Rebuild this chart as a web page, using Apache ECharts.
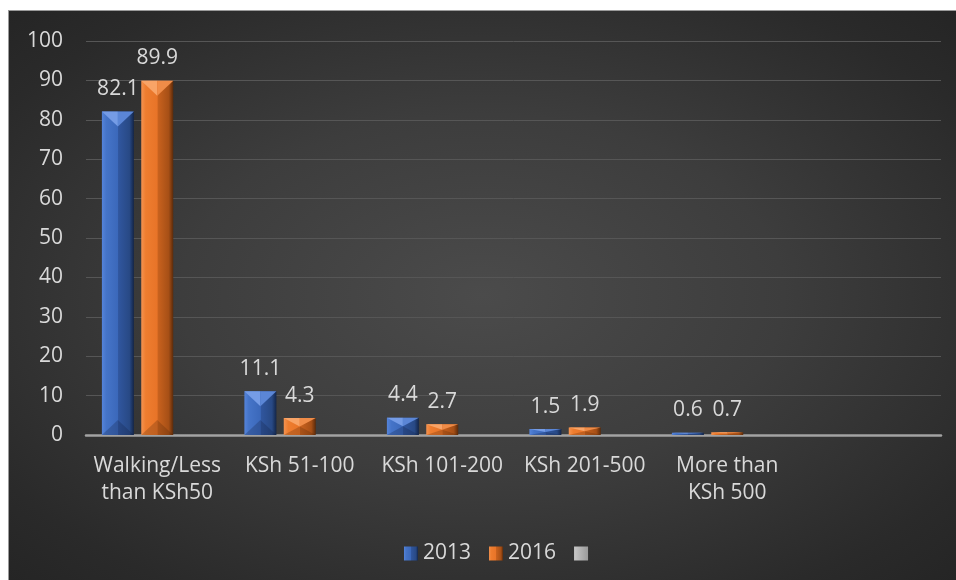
<!DOCTYPE html>
<html>
<head>
<meta charset="utf-8">
<script src="https://cdn.jsdelivr.net/npm/echarts@6/dist/echarts.min.js"></script>
<style>
  html, body { margin: 0; padding: 0; background: #ffffff; }
  #bg {
    position: absolute; left: 8px; top: 10px; right: 0; bottom: 0;
    background: radial-gradient(ellipse at 50% 50%, #4b4b4b 0%, #3d3d3d 45%, #2a2a2a 85%, #252525 100%);
    border-left: 1px solid #9a9a9a; border-top: 1px solid #9a9a9a;
  }
  #chart { position: absolute; left: 0; top: 0; width: 956px; height: 580px; }
</style>
</head>
<body>
<div id="bg"></div>
<div id="chart"></div>
<script>
// Cost categories (the last slot is left blank)
const categories = ['Walking/Less\nthan KSh50', 'KSh 51-100', 'KSh 101-200', 'KSh 201-500', 'More than\nKSh 500', ''];
const seriesNames = ['2013', '2016', ' '];
const values2013 = [82.1, 11.1, 4.4, 1.5, 0.6];
const values2016 = [89.9, 4.3, 2.7, 1.9, 0.7];
const valuesBlank = [];
const yTicks = { min: 0, max: 100, interval: 10 };

const FONT = '"Open Sans", "Liberation Sans", sans-serif';
const TXT = '#d9d9d9';
const FS = 21;
const BAR_W = 32;
const BAR_GAP = 0.23;

function bevel(stops) {
  return {
    type: 'linear', x: 0, y: 0, x2: 1, y2: 0,
    colorStops: stops.map(s => ({ offset: s[0], color: s[1] }))
  };
}
const blueFill = bevel([[0, '#5584da'], [0.14, '#4574c8'], [0.5, '#3b68ba'], [0.52, '#30569e'], [0.86, '#284985'], [1, '#132548']]);
const orangeFill = bevel([[0, '#f59350'], [0.14, '#ee7d2f'], [0.5, '#e87428'], [0.52, '#c9621e'], [0.86, '#a64f16'], [1, '#5a2a0a']]);
const greyFill = bevel([[0, '#c8c8c8'], [1, '#9a9a9a']]);

const labelStyle = {
  show: true, position: 'top', distance: 12,
  color: TXT, fontFamily: FONT, fontSize: FS
};

// Angled bevel facets drawn on top of each bar, positioned from the axis scales
function bevelSeries(name, values, slot, slots, light, mid, dark) {
  return {
    name: name,
    type: 'custom',
    silent: true,
    z: 3,
    data: values.map((v, i) => [i, v]),
    renderItem: function (params, api) {
      const idx = api.value(0);
      const top = api.coord([idx, api.value(1)]);
      const base = api.coord([idx, 0]);
      const step = BAR_W * (1 + BAR_GAP);
      const cx = top[0] + (slot - (slots - 1) / 2) * step;
      const xl = cx - BAR_W / 2, xr = cx + BAR_W / 2;
      const yt = top[1], yb = base[1];
      const h = Math.min(15, (yb - yt) / 2);
      if (h < 0.5) return null;
      return {
        type: 'group',
        children: [
          { type: 'polygon', shape: { points: [[xl, yt], [cx, yt], [cx, yt + h]] }, style: { fill: light } },
          { type: 'polygon', shape: { points: [[cx, yt], [xr, yt], [cx, yt + h]] }, style: { fill: mid } },
          { type: 'polygon', shape: { points: [[xl, yb], [cx, yb - h], [xr, yb]] }, style: { fill: dark, opacity: 0.25 } }
        ]
      };
    }
  };
}

const chart = echarts.init(document.getElementById('chart'), null, { renderer: 'canvas' });
chart.setOption({
  backgroundColor: 'transparent',
  animation: false,
  grid: { left: 86, right: 15, top: 41, bottom: 145, containLabel: false },
  xAxis: {
    type: 'category',
    data: categories,
    axisLine: { show: true, lineStyle: { color: '#a3a3a3', width: 2.5 } },
    axisTick: { show: false },
    axisLabel: {
      color: TXT, fontFamily: FONT, fontSize: FS, lineHeight: 27,
      margin: 18, interval: 0
    },
    splitLine: { show: false }
  },
  yAxis: {
    type: 'value',
    min: yTicks.min, max: yTicks.max, interval: yTicks.interval,
    axisLine: { show: false },
    axisTick: { show: false },
    axisLabel: { color: TXT, fontFamily: FONT, fontSize: FS, margin: 23 },
    splitLine: { lineStyle: { color: '#565656', width: 1 } }
  },
  legend: {
    left: 399, top: 538,
    itemWidth: 14, itemHeight: 14, itemGap: 18,
    icon: 'rect',
    textStyle: { color: TXT, fontFamily: FONT, fontSize: FS },
    data: seriesNames
  },
  series: [
    {
      name: seriesNames[0], type: 'bar', data: values2013,
      barWidth: BAR_W, barGap: (BAR_GAP * 100) + '%',
      itemStyle: { color: blueFill },
      label: labelStyle
    },
    {
      name: seriesNames[1], type: 'bar', data: values2016,
      barWidth: BAR_W, barGap: (BAR_GAP * 100) + '%',
      itemStyle: { color: orangeFill },
      label: labelStyle
    },
    {
      name: seriesNames[2], type: 'bar', data: valuesBlank,
      barWidth: BAR_W, barGap: (BAR_GAP * 100) + '%',
      itemStyle: { color: greyFill }
    },
    bevelSeries(seriesNames[0], values2013, 0, 3, '#759ce6', '#5b86d6', '#0e1d3c'),
    bevelSeries(seriesNames[1], values2016, 1, 3, '#f8a467', '#ef8c48', '#4a2206')
  ]
});
</script>
</body>
</html>
